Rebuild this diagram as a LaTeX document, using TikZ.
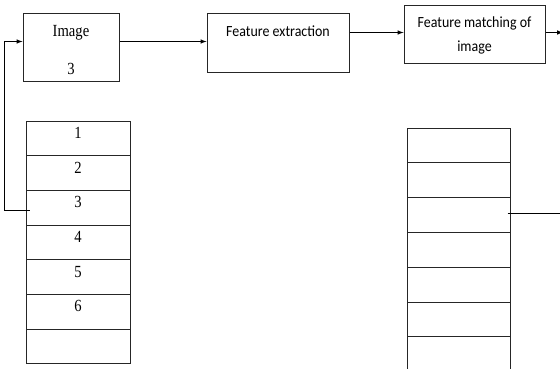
\documentclass[tikz,border=0pt]{standalone}
\usepackage{fontspec}
\usepackage{tikz}
\newfontfamily\serifface[FakeStretch=0.86]{Liberation Serif}
\newfontfamily\calface[FakeStretch=0.9]{Carlito}
\usetikzlibrary{arrows}
\usetikzlibrary{calc}
\usetikzlibrary{positioning}

\begin{document}
\begin{tikzpicture}[x=1pt, y=-1pt, >=latex, line width=1pt,
  block/.style={draw=black!85, rectangle, inner sep=0pt},
  cell/.style={draw=black!85, rectangle, inner sep=0pt, minimum width=104pt,
    minimum height=34.7pt, text height=8pt, text depth=8pt,
    font=\serifface\fontsize{17}{20}\selectfont}]
  \useasboundingbox (0,0) rectangle (560,369);

  \node[block, minimum width=96pt, minimum height=68pt, align=center,
    font=\serifface\fontsize{17}{20}\selectfont] (img) at (71,48)
    {\rule{0pt}{16pt}Image\\[18pt]3};
  \node[block, minimum width=142pt, minimum height=59pt, text height=10pt,
    text depth=23pt, font=\calface\fontsize{15.5}{18}\selectfont] (fe) at (278,43.5)
    {Feature extraction};
  \node[block, minimum width=141pt, minimum height=58pt, align=center,
    font=\calface\fontsize{15.5}{18}\selectfont] (fm) at (474.5,35)
    {Feature matching of\\[6pt]image};

  \foreach \i/\t in {1/1,2/2,3/3,4/4,5/5,6/6,7/{}} {
    \node[cell] (l\i) at (78, {103.65+34.7*\i}) {\t};
  }
  \foreach \i in {1,...,7} {
    \node[cell, minimum width=103pt, minimum height=34.8pt] (r\i) at (458.5, {110.6+34.8*\i}) {};
  }

  \coordinate (a1) at ([yshift=6.5pt]img.east);
  \coordinate (a2) at ([yshift=11pt]fe.east);
  \coordinate (out) at (563,32.5);
  \draw[->] (a1) -- (a1 -| fe.west);
  \draw[->] (a2) -- (a2 -| fm.west);
  \draw[->] (a2 -| fm.east) -- (out);

  \coordinate (b0) at ([yshift=6.5pt]img.west);
  \coordinate (b1) at ([xshift=4pt,yshift=-3pt]l3.west);
  \draw[->] (b1) -- ++(-25,0) |- (b0);

  \coordinate (c1) at ([xshift=-3pt,yshift=2pt]r3.east);
  \coordinate (c2) at (560,213);
  \draw (c1) -- (c2);
\end{tikzpicture}
\end{document}
